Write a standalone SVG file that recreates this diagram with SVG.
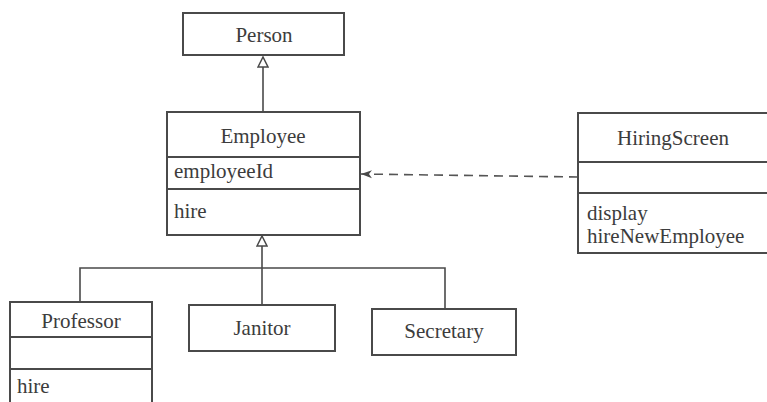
<svg xmlns="http://www.w3.org/2000/svg" width="767" height="402" viewBox="0 0 767 402">
  <style>
    .box { fill: #ffffff; stroke: #4a4a4a; stroke-width: 2; }
    .div { stroke: #4a4a4a; stroke-width: 2; fill: none; }
    .edge { stroke: #4a4a4a; stroke-width: 1.6; fill: none; }
    .dash { stroke: #555555; stroke-width: 1.6; fill: none; stroke-dasharray: 9 6; }
    .t { font-family: "Liberation Serif", "Times New Roman", serif; font-size: 21px; fill: #3c3c3c; }
    .c { text-anchor: middle; }
  </style>
  <defs>
    <marker id="gen" viewBox="0 0 12 12" refX="11" refY="6" markerWidth="12" markerHeight="12" markerUnits="userSpaceOnUse" orient="auto">
      <path d="M1,1 L11,6 L1,11 Z" fill="#ffffff" stroke="#4a4a4a" stroke-width="1.5"/>
    </marker>
    <marker id="dep" viewBox="0 0 12 10" refX="11" refY="5" markerWidth="12" markerHeight="10" markerUnits="userSpaceOnUse" orient="auto">
      <path d="M0,1 L11,5 L0,9 L3,5 Z" fill="#4a4a4a"/>
    </marker>
  </defs>
  <rect width="767" height="402" fill="#ffffff"/>

  <g id="connectors">
    <!-- Employee generalises Person -->
    <path class="edge" d="M263,113 L263,57" marker-end="url(#gen)"/>
    <!-- subclasses generalise Employee -->
    <path class="edge" d="M262,305 L262,236" marker-end="url(#gen)"/>
    <path class="edge" d="M80,302 L80,268 L445,268 L445,309"/>
    <!-- HiringScreen depends on Employee -->
    <path class="dash" d="M578,177 L361,174" marker-end="url(#dep)"/>
  </g>

  <g id="person">
    <rect class="box" x="183" y="13" width="161" height="42"/>
    <text class="t c" x="264" y="42">Person</text>
  </g>

  <g id="employee">
    <rect class="box" x="167" y="112" width="193" height="123"/>
    <line class="div" x1="167" y1="157" x2="360" y2="157"/>
    <line class="div" x1="167" y1="189" x2="360" y2="189"/>
    <text class="t c" x="263" y="143">Employee</text>
    <text class="t" x="174" y="178">employeeId</text>
    <text class="t" x="174" y="218">hire</text>
  </g>

  <g id="hiringscreen">
    <rect class="box" x="578" y="113" width="200" height="140"/>
    <line class="div" x1="578" y1="162" x2="778" y2="162"/>
    <line class="div" x1="578" y1="193" x2="778" y2="193"/>
    <text class="t c" x="673" y="145">HiringScreen</text>
    <text class="t" x="587" y="220">display</text>
    <text class="t" x="587" y="243">hireNewEmployee</text>
  </g>

  <g id="professor">
    <rect class="box" x="10" y="302" width="142" height="110"/>
    <line class="div" x1="10" y1="337" x2="152" y2="337"/>
    <line class="div" x1="10" y1="369" x2="152" y2="369"/>
    <text class="t c" x="81" y="328">Professor</text>
    <text class="t" x="17" y="393">hire</text>
  </g>

  <g id="janitor">
    <rect class="box" x="189" y="305" width="146" height="46"/>
    <text class="t c" x="262" y="335">Janitor</text>
  </g>

  <g id="secretary">
    <rect class="box" x="372" y="309" width="144" height="46"/>
    <text class="t c" x="444" y="338">Secretary</text>
  </g>
</svg>
